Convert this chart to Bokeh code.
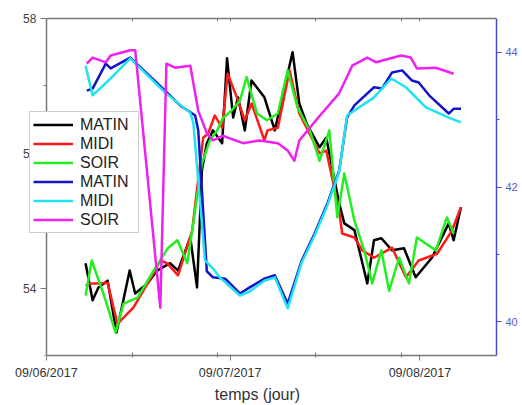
from bokeh.plotting import figure
from bokeh.models import Range1d, LinearAxis, FixedTicker, Legend, LegendItem
from bokeh.embed import file_html
from bokeh.resources import INLINE

# x = jours depuis le 09/06/2017
jours_matin_g = [6.4, 7.55, 8.5, 10.0, 11.45, 13.6, 14.5, 16.5, 18.1, 20.2, 21.5, 23.5, 24.6, 25.4, 26.2, 27.2,
                 28.7, 29.5, 30.5, 31.3, 32.4, 33.5, 35.6, 37.3, 40.2, 41.3, 42.5, 44.6, 45.7, 47.8, 48.65, 50.3,
                 52.4, 53.5, 54.7, 56.45, 58.4, 60.3, 62.95, 65.7, 66.5, 67.7]
matin_g = [54.37, 53.82, 54.01, 54.11, 53.34, 54.26, 53.92, 54.07, 54.26, 54.37, 54.26, 54.75, 54.01, 55.75, 56.15,
           56.34, 56.15, 57.41, 56.53, 56.83, 56.34, 57.08, 56.83, 56.34, 57.5, 56.74, 56.44, 56.09, 56.23, 55.26,
           54.96, 54.86, 54.07, 54.71, 54.74, 54.56, 54.59, 54.16, 54.45, 54.96, 54.71, 55.2]

jours_midi_g = [6.4, 7.55, 8.85, 10.0, 11.6, 14.2, 17.5, 18.6, 19.7, 21.5, 23.8, 25.6, 26.4, 27.5, 28.7, 29.6,
                31.1, 32.4, 33.5, 35.6, 36.1, 37.8, 39.7, 41.3, 44.6, 45.7, 47.8, 48.3, 50.3, 51.6, 53.5, 56.45,
                58.7, 60.8, 63.8, 66.2, 67.7]
midi_g = [54.04, 54.07, 54.07, 54.08, 53.47, 53.71, 54.22, 54.41, 54.37, 54.19, 54.85, 56.23, 56.29, 56.56, 56.38,
          57.18, 56.83, 56.49, 56.74, 56.19, 56.34, 56.38, 57.23, 56.59, 56.0, 56.04, 55.15, 54.81, 54.75, 54.56,
          54.45, 54.6, 54.16, 54.41, 54.51, 54.85, 55.2]

jours_soir_g = [6.4, 7.4, 9.3, 11.3, 12.6, 14.9, 17.5, 19.9, 21.4, 23.0, 23.8, 25.4, 26.7, 27.9, 28.8, 30.3, 31.6,
                32.7, 34.4, 36.0, 37.8, 39.4, 41.0, 43.0, 44.6, 46.2, 47.5, 48.65, 50.3, 51.9, 53.2, 54.7, 55.96,
                57.6, 59.2, 60.5, 63.6, 65.4, 66.5]
soir_g = [53.89, 54.41, 53.92, 53.34, 53.77, 53.86, 54.26, 54.6, 54.71, 54.37, 54.85, 55.85, 56.19, 56.34, 56.52,
          56.64, 56.78, 57.13, 56.59, 56.49, 56.59, 57.23, 56.68, 56.34, 55.89, 56.34, 55.05, 55.7, 55.0, 54.56,
          54.07, 54.56, 53.96, 54.45, 54.07, 54.75, 54.56, 55.05, 54.81]

jours_matin_d = [6.6, 7.55, 9.7, 10.5, 13.7, 18.1, 21.85, 24.3, 24.8, 26.2, 27.2, 29.2, 31.6, 33.2, 35.6, 37.3,
                 39.4, 41.7, 43.8, 45.9, 47.8, 49.1, 50.3, 53.5, 54.8, 56.45, 58.1, 59.7, 60.8, 62.5, 65.7, 66.5, 67.7]
matin_d = [43.43, 43.46, 43.83, 43.76, 43.92, 43.54, 43.21, 43.06, 42.84, 40.75, 40.66, 40.64, 40.42, 40.51, 40.64,
           40.69, 40.27, 40.91, 41.31, 41.76, 42.24, 43.03, 43.21, 43.48, 43.46, 43.70, 43.73, 43.58, 43.55, 43.36,
           43.09, 43.16, 43.16]

jours_midi_d = [6.4, 7.55, 10.5, 13.7, 19.4, 23.5, 24.0, 25.9, 27.2, 28.3, 31.6, 33.2, 35.6, 37.3, 39.4, 41.7,
                43.8, 45.9, 47.8, 49.1, 53.5, 56.3, 58.7, 61.97, 65.7, 67.7]
midi_d = [43.80, 43.36, 43.61, 43.91, 43.40, 43.10, 42.95, 40.91, 40.79, 40.66, 40.39, 40.45, 40.61, 40.66, 40.2,
          40.88, 41.28, 41.73, 42.22, 43.06, 43.33, 43.61, 43.48, 43.18, 43.03, 42.96]

jours_soir_d = [6.6, 7.55, 9.7, 10.5, 13.7, 14.5, 18.6, 19.6, 21.0, 23.5, 24.8, 26.2, 27.2, 28.8, 32.1, 34.8, 37.8,
                39.4, 40.5, 41.3, 44.3, 47.8, 49.95, 52.4, 53.85, 57.9, 59.5, 60.5, 63.6, 66.5]
soir_d = [43.83, 43.92, 43.85, 43.95, 44.03, 44.03, 40.21, 43.83, 43.77, 43.80, 43.13, 42.80, 42.69, 42.76, 42.65,
          42.69, 42.65, 42.54, 42.39, 42.69, 43.02, 43.39, 43.80, 43.92, 43.85, 43.95, 43.92, 43.76, 43.77, 43.68]

x_ticks = [0, 30, 61]
x_tick_labels = ["09/06/2017", "09/07/2017", "09/08/2017"]
x_minor = [14, 28, 44, 58]
y_left_ticks = [54, 56, 58]
y_left_minor = [53, 55, 57]
y_right_ticks = [40, 42, 44]
y_right_minor = [41, 43]
legend_labels = ["MATIN", "MIDI", "SOIR", "MATIN", "MIDI", "SOIR"]
colors = ["#000000", "#ff1a1a", "#22ee22", "#1414c8", "#22e2f2", "#ee22ee"]

FONT = "Liberation Sans"
GRAY = "#777777"
BLUE_AX = "#4b4bd2"
X_START, X_END = 0, 73.5           # axis extent (days)
Y0, Y1 = 53, 58                    # left axis extent
R0, R1 = 39.5, 44.5                # right axis extent
AXIS_LEFT_PX, AXIS_TOP_PX = 46, 18  # where the left / top axis lines sit on the page
ML, MR, MT, MB = 18, 22, 8, 50     # frame is larger than the axes box so texts/legend can overlap it
W, H = 520, 405
PX_PER_DAY = (W - MR - AXIS_LEFT_PX) / (X_END - X_START)
X0 = X_START - (AXIS_LEFT_PX - ML) / PX_PER_DAY
PX_PER_UNIT = (H - MB - AXIS_TOP_PX) / (Y1 - Y0)
EXTRA_TOP = (AXIS_TOP_PX - MT) / PX_PER_UNIT

p = figure(width=W, height=H, output_backend="svg", toolbar_location=None,
           x_range=Range1d(X0, X_END), y_range=Range1d(Y0, Y1 + EXTRA_TOP),
           min_border_left=ML, min_border_right=MR, min_border_top=MT, min_border_bottom=MB)
p.extra_y_ranges = {"droite": Range1d(R0, R1 + EXTRA_TOP)}
p.grid.visible = False
p.outline_line_color = None
p.background_fill_color = "white"
p.border_fill_color = "white"

xa = p.xaxis[0]
xa.bounds = (X_START, X_END)
xa.ticker = FixedTicker(ticks=x_ticks, minor_ticks=x_minor)
xa.major_label_overrides = {t: l for t, l in zip(x_ticks, x_tick_labels)}
xa.axis_label = "temps (jour)"
xa.axis_label_text_font = FONT
xa.axis_label_text_font_size = "16px"
xa.axis_label_text_font_style = "normal"
xa.axis_label_text_color = "#333333"
xa.axis_label_standoff = 3
xa.major_label_text_font = FONT
xa.major_label_text_font_size = "12.5px"
xa.major_label_text_color = "#333333"
xa.major_label_standoff = 5
xa.axis_line_color = GRAY
xa.axis_line_width = 1.5
xa.major_tick_line_color = GRAY
xa.minor_tick_line_color = GRAY
xa.major_tick_out = 5
xa.major_tick_in = 0
xa.minor_tick_in = 3
xa.minor_tick_out = 2

# top border: an axis at y = 58 with only small inward ticks
top = LinearAxis(ticker=FixedTicker(ticks=[], minor_ticks=sorted(x_ticks + x_minor)),
                 bounds=(X_START, X_END), fixed_location=Y1)
top.axis_line_color = GRAY
top.axis_line_width = 1.5
top.minor_tick_line_color = GRAY
top.minor_tick_in = 3
top.minor_tick_out = 0
top.major_label_standoff = 0
p.add_layout(top, "above")

ya = p.yaxis[0]
ya.fixed_location = X_START
ya.bounds = (Y0, Y1)
ya.ticker = FixedTicker(ticks=y_left_ticks, minor_ticks=y_left_minor)
ya.major_label_text_font = FONT
ya.major_label_text_font_size = "12px"
ya.major_label_text_color = "#444444"
ya.major_label_standoff = 4
ya.axis_line_color = GRAY
ya.axis_line_width = 1.5
ya.major_tick_line_color = GRAY
ya.minor_tick_line_color = GRAY
ya.major_tick_out = 6
ya.major_tick_in = 0
ya.minor_tick_out = 3
ya.minor_tick_in = 0

yr = LinearAxis(y_range_name="droite", bounds=(R0, R1),
                ticker=FixedTicker(ticks=y_right_ticks, minor_ticks=y_right_minor))
yr.major_label_text_font = FONT
yr.major_label_text_font_size = "11px"
yr.major_label_text_color = "#5a5ad8"
yr.major_label_standoff = 4
yr.axis_line_color = BLUE_AX
yr.axis_line_width = 1.5
yr.major_tick_line_color = BLUE_AX
yr.minor_tick_line_color = BLUE_AX
yr.major_tick_out = 5
yr.major_tick_in = 0
yr.minor_tick_out = 3
yr.minor_tick_in = 0
p.add_layout(yr, "right")

LW = 2.5
series = [(jours_matin_g, matin_g, None), (jours_midi_g, midi_g, None), (jours_soir_g, soir_g, None),
          (jours_matin_d, matin_d, "droite"), (jours_midi_d, midi_d, "droite"), (jours_soir_d, soir_d, "droite")]
renderers = []
for (xs, ys, rng), c in zip(series, colors):
    kw = {"y_range_name": rng} if rng else {}
    renderers.append(p.line(xs, ys, line_color=c, line_width=LW, line_join="round", **kw))

legend = Legend(items=[LegendItem(label=l, renderers=[r]) for l, r in zip(legend_labels, renderers)],
                location=(29 - ML, 122))
legend.border_line_color = "#999999"
legend.border_line_width = 1
legend.background_fill_color = "white"
legend.background_fill_alpha = 1
legend.padding = 3
legend.spacing = 0
legend.margin = 0
legend.glyph_width = 40
legend.glyph_height = 19
legend.label_height = 19
legend.label_width = 55
legend.label_standoff = 7
legend.label_text_font = FONT
legend.label_text_font_size = "16px"
legend.label_text_color = "#222222"
p.add_layout(legend)

open("out.html", "w").write(file_html(p, INLINE))
